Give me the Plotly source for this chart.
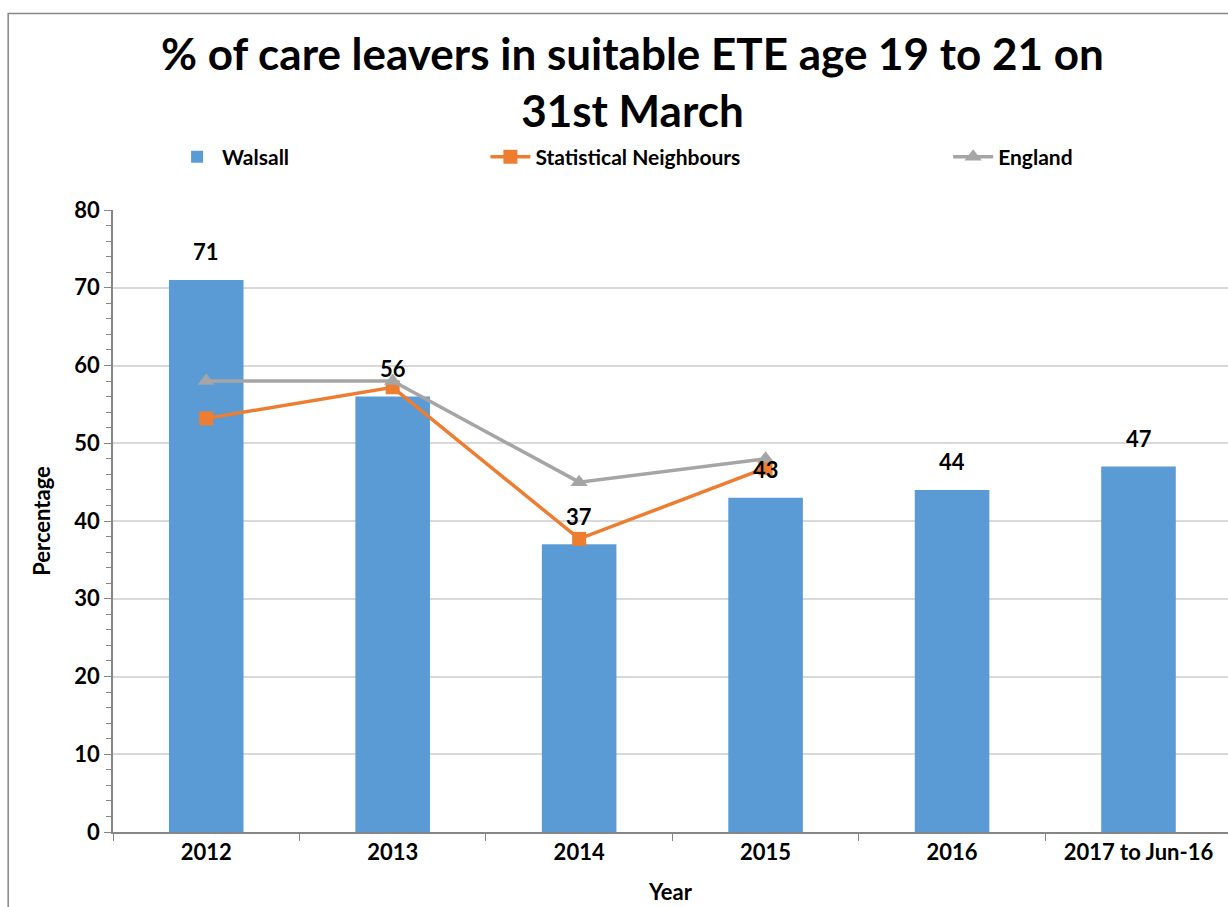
import plotly.graph_objects as go

years = ["2012", "2013", "2014", "2015", "2016", "2017 to Jun-16"]
walsall = [71, 56, 37, 43, 44, 47]
stat_neighbours = [53.2, 57.2, 37.7, 46.8, None, None]
england = [58, 58, 45, 48, None, None]
y_ticks = [0, 10, 20, 30, 40, 50, 60, 70, 80]

FONT = "Lato"
BLUE = "#5b9bd5"
ORANGE = "#ed7d31"
GREY = "#a5a5a5"
AXIS = "#868686"

fig = go.Figure()

fig.add_trace(go.Bar(
    x=years, y=walsall, name="<b>Walsall</b>", marker=dict(color=BLUE, line=dict(width=0)),
    width=0.4, legend="legend",
))
fig.add_trace(go.Scatter(
    x=years, y=stat_neighbours, name="<b>Statistical Neighbours</b>", mode="lines+markers",
    line=dict(color=ORANGE, width=3.5), marker=dict(symbol="square", size=14, color=ORANGE),
    legend="legend2",
))
fig.add_trace(go.Scatter(
    x=years, y=england, name="<b>England</b>", mode="lines+markers",
    line=dict(color=GREY, width=3.5), marker=dict(symbol="triangle-up", size=15, color=GREY),
    legend="legend3",
))

# value labels above the Walsall bars
for i, v in enumerate(walsall):
    fig.add_annotation(x=i, y=v, text=f"<b>{v}</b>", showarrow=False, yshift=28,
                       font=dict(family=FONT, size=22, color="black"))

legend_common = dict(orientation="h", yanchor="middle", y=1.085, xanchor="left",
                     font=dict(family=FONT, size=21, color="black"),
                     bgcolor="rgba(0,0,0,0)", itemwidth=40)

fig.update_layout(
    width=1228, height=907,
    margin=dict(l=113, r=0, t=210, b=75),
    paper_bgcolor="white", plot_bgcolor="white",
    title=dict(text="<b>% of care leavers in suitable ETE age 19 to 21 on<br>31st March</b>",
               x=0.515, xanchor="center", y=0.923, yanchor="middle",
               font=dict(family=FONT, size=44, color="black")),
    font=dict(family=FONT, color="black"),
    legend=dict(**legend_common, x=0.053),
    legend2=dict(**legend_common, x=0.334),
    legend3=dict(**legend_common, x=0.749),
    showlegend=True,
)

fig.update_xaxes(
    type="category", range=[-0.5, 5.48],
    showline=True, linecolor=AXIS, linewidth=1.5,
    ticks="outside", tickson="boundaries", ticklen=7, tickcolor=AXIS,
    tickvals=years, ticktext=[f"<b>{y}</b>" for y in years],
    tickfont=dict(family=FONT, size=22, color="black"),
    title=dict(text="<b>Year</b>", font=dict(family=FONT, size=22, color="black"), standoff=20),
    showgrid=False,
)
fig.update_yaxes(
    range=[0, 80],
    showline=True, linecolor=AXIS, linewidth=1.5,
    ticks="outside", ticklen=7, tickcolor=AXIS,
    tickvals=y_ticks, ticktext=[f"<b>{v}</b>" for v in y_ticks],
    minor=dict(dtick=2, ticks="outside", ticklen=5, tickcolor=AXIS, showgrid=False),
    showgrid=True, gridcolor="#d9d9d9", gridwidth=1.5,
    tickfont=dict(family=FONT, size=22, color="black"),
    title=dict(text="<b>Percentage</b>", font=dict(family=FONT, size=22, color="black"), standoff=18),
    zeroline=False,
)

# chart frame
fig.add_shape(type="rect", xref="paper", yref="paper", x0=-0.094, x1=1.05, y0=-0.14, y1=1.316,
              line=dict(color=AXIS, width=1.5), fillcolor="rgba(0,0,0,0)", layer="below")

fig.write_html("out.html")
